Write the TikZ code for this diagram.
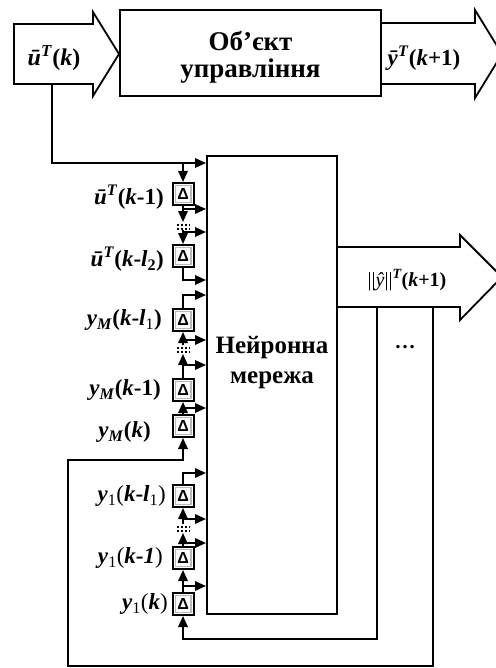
\documentclass[tikz,border=0pt]{standalone}
\usepackage{fontspec}
\setmainfont{Liberation Serif}
\newfontfamily\deltafont{Liberation Sans}
\usetikzlibrary{arrows.meta}
\begin{document}
\begin{tikzpicture}[x=1pt,y=-1pt,
  line/.style={line width=1.8pt},
  arr/.style={line width=1.8pt, -{Triangle[length=11pt,width=9.5pt]}},
  dots/.style={line width=1.8pt, dash pattern=on 1.6pt off 2.4pt},
  delaybox/.style={draw, line width=2pt, minimum width=21pt, minimum height=22pt, inner sep=0pt, fill=white,
    font=\deltafont\bfseries\fontsize{16}{16}\selectfont,
    path picture={\draw[gray!55, line width=1.2pt] ([shift={(2.6pt,-2.6pt)}]path picture bounding box.north west) rectangle ([shift={(-2.6pt,2.6pt)}]path picture bounding box.south east);}},
  lbl/.style={anchor=east, font=\fontsize{23}{26}\selectfont\bfseries, inner sep=0pt},
  title/.style={font=\fontsize{27}{27}\selectfont\bfseries, align=center},
  barrow/.style={draw, line width=1.8pt, fill=white},
  block/.style={draw, line width=2pt, fill=white}
]
\useasboundingbox (0,0) rectangle (495,668);

% top block arrows and object
\path[barrow] (14,24) -- (93,24) -- (93,12) -- (119,54) -- (93,96) -- (93,84) -- (14,84) -- cycle;
\path[barrow] (381,23) -- (475,23) -- (475,10) -- (502,54) -- (475,98) -- (475,84) -- (381,84) -- cycle;
\node[block, minimum width=261pt, minimum height=86pt] (obj) at (250.5,53) {};
\node[title] (objl) at (250.5,57) {Об’єкт\\управління};
\node[font=\fontsize{24}{26}\selectfont\bfseries] (lu) at (54,58) {\textit{ū}\textsuperscript{\textit{T}}(\textit{k})};
\node[font=\fontsize{23}{26}\selectfont\bfseries] (ly) at (424,58) {\textit{ȳ}\textsuperscript{\textit{T}}(\textit{k}+1)};

% neural network
\path[barrow] (337,247) -- (460,247) -- (460,235) -- (502,277) -- (460,320) -- (460,307) -- (337,307);
\node[block, minimum width=130pt, minimum height=458pt] (nn) at (272,385) {};
\node[title, font=\fontsize{25}{30}\selectfont\bfseries] (nnl) at (272,363) {Нейронна\\мережа};
\node[font=\fontsize{20}{22}\selectfont] (lyh) at (407,280) {||\textit{ŷ}||\textsuperscript{\bfseries\itshape T}\textbf{(\textit{k}+1)}};
\node[font=\fontsize{21}{22}\selectfont\bfseries] (ell) at (405,347) {…};

% delay boxes
\node[delaybox] (U1) at (183,194) {Δ};
\node[delaybox] (U2) at (183,256) {Δ};
\node[delaybox] (M1) at (183,320) {Δ};
\node[delaybox] (M2) at (183,390) {Δ};
\node[delaybox] (M3) at (183,426) {Δ};
\node[delaybox] (Y1) at (183,496) {Δ};
\node[delaybox] (Y2) at (183,558) {Δ};
\node[delaybox] (Y3) at (183,604) {Δ};

% labels
\node[lbl] (lU1) at (164,197) {\textit{ū}\textsuperscript{\textit{T}}(\textit{k}-1)};
\node[lbl] (lU2) at (164,259) {\textit{ū}\textsuperscript{\textit{T}}(\textit{k}-\textit{l}\textsubscript{2})};
\node[lbl] (lM1) at (162,320) {\textit{y}\textsubscript{\textit{M}}(\textit{k}-\textit{l}\textsubscript{\mdseries 1})};
\node[lbl] (lM2) at (161,390) {\textit{y}\textsubscript{\textit{M}}(\textit{k}-1)};
\node[lbl] (lM3) at (151,432) {\textit{y}\textsubscript{\textit{M}}(\textit{k})};
\node[lbl] (lY1) at (166,496) {\textit{y}\textsubscript{\mdseries 1}{\mdseries(}\textit{k}-\textit{l}\textsubscript{\mdseries 1}{\mdseries)}};
\node[lbl] (lY2) at (163,558) {\textit{y}\textsubscript{\mdseries 1}{\mdseries(}\textit{k}-\textit{1}{\mdseries)}};
\node[lbl] (lY3) at (168,604) {\textit{y}\textsubscript{\mdseries 1}{\mdseries(}\textit{k}{\mdseries)}};

% u chain
\coordinate (ua) at (52,84);
\draw[arr] (ua) -- (52,163) -- (nn.west |- 52,163);
\draw[arr] (183,163) -- (U1.north);
\draw[arr] (U1.south) -- (183,209) -- (nn.west |- 0,209);
\draw[arr] (183,209) -- (183,222);
\draw[dots] (177,225) -- (190,225);
\draw[dots] (177,229) -- (190,229);
\draw[line] (183,230) -- (183,232);
\draw[arr] (183,232) -- (nn.west |- 0,232);
\draw[arr] (183,232) -- (U2.north);
\draw[arr] (U2.south) -- (183,280) -- (nn.west |- 0,280);

% yM chain
\draw[arr] (M1.north) -- (183,295) -- (nn.west |- 0,295);
\draw[arr] (183,345) -- (M1.south);
\draw[arr] (183,340) -- (nn.west |- 0,340);
\draw[dots] (177,348) -- (190,348);
\draw[dots] (177,352) -- (190,352);
\draw[arr] (M2.north) -- (183,354);
\draw[arr] (183,365) -- (nn.west |- 0,365);
\draw[arr] (M3.north) -- (M2.south);
\draw[arr] (183,408) -- (nn.west |- 0,408);

% y1 chain
\draw[arr] (Y1.north) -- (183,473) -- (nn.west |- 0,473);
\draw[arr] (183,524) -- (Y1.south);
\draw[arr] (183,519) -- (nn.west |- 0,519);
\draw[dots] (177,527) -- (190,527);
\draw[dots] (177,531) -- (190,531);
\draw[arr] (Y2.north) -- (183,533);
\draw[arr] (183,543) -- (nn.west |- 0,543);
\draw[arr] (Y3.north) -- (Y2.south);
\draw[arr] (183,586) -- (nn.west |- 0,586);

% feedback
\coordinate (f1) at (377,307);
\coordinate (f2) at (433,307);
\draw[arr] (f1) -- (377,639) -- (183,639) -- (Y3.south);
\draw[arr] (f2) -- (433,666) -- (68,666) -- (68,460) -- (183,460) -- (M3.south);
\end{tikzpicture}
\end{document}
